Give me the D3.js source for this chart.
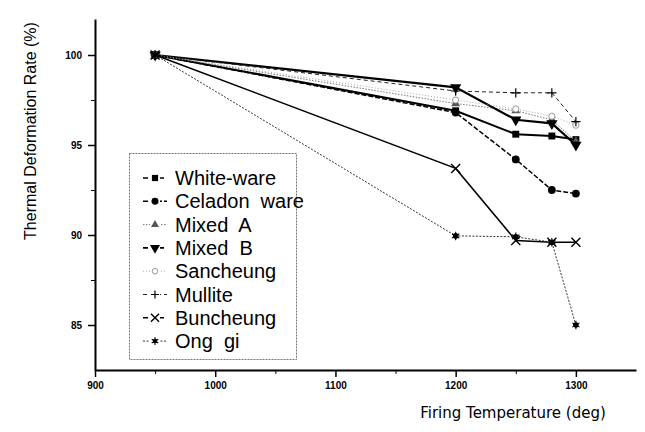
<!DOCTYPE html>
<html>
<head>
<meta charset="utf-8">
<script src="https://cdn.jsdelivr.net/npm/d3@7"></script>
<style>
  body { margin: 0; background: #fff; }
  svg { display: block; }
</style>
</head>
<body>
<div id="chart"></div>
<script>
/* Thermal deformation vs firing temperature */

// Firing temperatures (deg) on the x-axis
const temps = [950, 1200, 1250, 1280, 1300];

// Thermal deformation rate (%) per body
const whiteWare  = [100, 96.9, 95.6, 95.5, 95.3];
const celadon    = [100, 96.8, 94.2, 92.5, 92.3];
const mixedA     = [100, 97.3, 96.9, 96.4, 95.2];
const mixedB     = [100, 98.2, 96.4, 96.2, 95.0];
const sancheung  = [100, 97.5, 97.0, 96.6, 96.1];
const mullite    = [100, 98.0, 97.9, 97.9, 96.3];
const buncheung  = [100, 93.7, 89.7, 89.6, 89.6];
const onggi      = [100, 89.95, 89.9, 89.6, 85.0];

const names = ["White-ware", "Celadon  ware", "Mixed  A", "Mixed  B",
               "Sancheung", "Mullite", "Buncheung", "Ong  gi"];
const values = [whiteWare, celadon, mixedA, mixedB, sancheung, mullite, buncheung, onggi];

const xTicks = [900, 1000, 1100, 1200, 1300];
const yTicks = [85, 90, 95, 100];

// look of each series: line + marker
const styles = [
    { stroke: "#000", width: 2,   dash: null,    sym: "square" },
    { stroke: "#000", width: 1.5, dash: "5,2",   sym: "circle" },
    { stroke: "#777", width: 1,   dash: "1.5,1.5", sym: "triangle", fill: "#555" },
    { stroke: "#000", width: 2.2, dash: null,    sym: "triangleDown" },
    { stroke: "#aaa", width: 1,   dash: "1,2",   sym: "hollow" },
    { stroke: "#222", width: 1,   dash: "4,3",   sym: "plus" },
    { stroke: "#000", width: 1.5, dash: null,    sym: "times" },
    { stroke: "#333", width: 1,   dash: "2,1.5", sym: "star" }
];

const width = 645,
      height = 432;

let svg = d3.select("#chart")
    .append("svg")
    .attr("width", width)
    .attr("height", height);

let x = d3.scaleLinear()
    .domain([900, 1350])
    .range([95, 636]);

let y = d3.scaleLinear()
    .domain([82.5, 102])
    .range([370, 19]);

const tickFont = g => g.selectAll("text")
    .style("font-family", "Liberation Sans, Arial, sans-serif")
    .style("font-size", "10px")
    .style("font-weight", "bold")
    .attr("fill", "#000");

// axes, major + minor ticks
svg.append("g")
    .attr("transform", `translate(0,${y(82.5)})`)
    .call(d3.axisBottom(x).tickValues(d3.range(950, 1350, 100)).tickSize(4).tickFormat(""))
    .call(g => g.select(".domain").remove());

svg.append("g")
    .attr("transform", `translate(0,${y(82.5)})`)
    .call(d3.axisBottom(x).tickValues(xTicks).tickFormat(d3.format("d"))
        .tickSize(7).tickSizeOuter(0).tickPadding(5))
    .call(g => g.select(".domain").attr("stroke-width", 2))
    .call(g => g.selectAll("line").attr("stroke-width", 1.5))
    .call(tickFont);

svg.append("g")
    .attr("transform", `translate(${x(900)},0)`)
    .call(d3.axisLeft(y).tickValues([87.5, 92.5, 97.5]).tickSize(4).tickFormat(""))
    .call(g => g.select(".domain").remove());

svg.append("g")
    .attr("transform", `translate(${x(900)},0)`)
    .call(d3.axisLeft(y).tickValues(yTicks).tickFormat(d3.format("d"))
        .tickSize(7).tickSizeOuter(0).tickPadding(6))
    .call(g => g.select(".domain").attr("stroke-width", 2))
    .call(g => g.selectAll("line").attr("stroke-width", 1.5))
    .call(tickFont);

// axis titles
svg.append("text")
    .attr("transform", "translate(36,131) rotate(-90)")
    .attr("text-anchor", "middle")
    .style("font-family", "Liberation Sans, Arial, sans-serif")
    .style("font-size", "16px")
    .text("Thermal Deformation Rate (%)");

svg.append("text")
    .attr("x", 513)
    .attr("y", 418)
    .attr("text-anchor", "middle")
    .style("font-family", "DejaVu Sans, sans-serif")
    .style("font-size", "15px")
    .text("Firing Temperature (deg)");

// marker drawing helper
function marker(g, sym, st, size) {
    const s = size || 1;
    if (sym === "square") {
        g.append("path").attr("d", d3.symbol(d3.symbolSquare, 48 * s)()).attr("fill", "#000");
    } else if (sym === "circle") {
        g.append("path").attr("d", d3.symbol(d3.symbolCircle, 48 * s)()).attr("fill", "#000");
    } else if (sym === "triangle") {
        g.append("path").attr("d", d3.symbol(d3.symbolTriangle, 34 * s)()).attr("fill", st.fill);
    } else if (sym === "triangleDown") {
        g.append("path").attr("d", d3.symbol(d3.symbolTriangle, 55 * s)())
            .attr("transform", "rotate(180)").attr("fill", "#000");
    } else if (sym === "hollow") {
        g.append("path").attr("d", d3.symbol(d3.symbolCircle, 30 * s)())
            .attr("fill", "#fff").attr("stroke", "#999").attr("stroke-width", 1);
    } else if (sym === "plus") {
        g.append("path").attr("d", d3.symbol(d3.symbolPlus, 30 * s)())
            .attr("fill", "none").attr("stroke", "#000").attr("stroke-width", 1.2);
    } else if (sym === "times") {
        g.append("path").attr("d", d3.symbol(d3.symbolTimes, 55 * s)())
            .attr("fill", "none").attr("stroke", "#000").attr("stroke-width", 1.4);
    } else if (sym === "star") {
        g.append("path").attr("d", d3.symbol(d3.symbolAsterisk, 50 * s)())
            .attr("fill", "none").attr("stroke", "#000").attr("stroke-width", 1.1);
        g.append("circle").attr("r", 2.8 * s).attr("fill", "#000");
    }
}

const line = d3.line()
    .x((d, i) => x(temps[i]))
    .y(d => y(d));

// series lines and markers
values.forEach((vals, k) => {
    const st = styles[k];
    svg.append("path")
        .datum(vals)
        .attr("fill", "none")
        .attr("stroke", st.stroke)
        .attr("stroke-width", st.width)
        .attr("stroke-dasharray", st.dash)
        .attr("d", line);

    vals.forEach((v, i) => {
        let g = svg.append("g").attr("transform", `translate(${x(temps[i])},${y(v)})`);
        marker(g, st.sym, st);
    });
});

// legend box
const lg = svg.append("g");
lg.append("rect")
    .attr("x", 129.5).attr("y", 153.5)
    .attr("width", 167).attr("height", 206)
    .attr("fill", "#fff")
    .attr("stroke", "#777")
    .attr("stroke-width", 1)
    .attr("stroke-dasharray", "2,1");

names.forEach((name, k) => {
    const st = styles[k];
    const cy = 178 + k * 23.3;
    lg.append("line")
        .attr("x1", 143).attr("x2", 167)
        .attr("y1", cy).attr("y2", cy)
        .attr("stroke", st.stroke)
        .attr("stroke-width", Math.min(st.width, 1.6))
        .attr("stroke-dasharray", st.dash || "5,3");
    let g = lg.append("g").attr("transform", `translate(155,${cy})`);
    g.append("rect").attr("x", -5).attr("y", -5).attr("width", 10).attr("height", 10).attr("fill", "#fff");
    marker(g, st.sym, st, 0.8);
    lg.append("text")
        .attr("x", 175).attr("y", cy + 7)
        .style("font-family", "Liberation Sans, Arial, sans-serif")
        .style("font-size", "20px")
        .style("white-space", "pre")
        .attr("xml:space", "preserve")
        .text(name);
});
</script>
</body>
</html>
